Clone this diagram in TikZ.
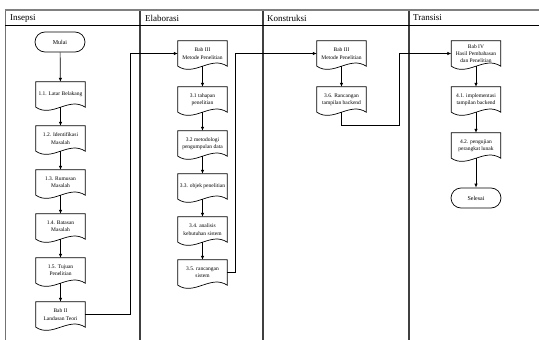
\documentclass[tikz,border=0pt]{standalone}
\usepackage{fontspec}
\setmainfont{Liberation Serif}
\usetikzlibrary{arrows.meta,calc}
\begin{document}
\begin{tikzpicture}[x=1pt,y=-1pt,
  doc/.style={draw=none, minimum width=49pt, minimum height=25pt, inner sep=1pt, align=center, font=\fontsize{5.5}{7.3}\selectfont},
  term/.style={draw, rounded corners=10pt, minimum width=50pt, minimum height=20pt, inner sep=1pt, font=\fontsize{6}{7}\selectfont, line width=0.7pt},
  arr/.style={line width=0.7pt, -{Latex[length=4pt,width=3.5pt]}},
  conn/.style={line width=0.7pt},
  lanehead/.style={anchor=west, inner sep=0pt, font=\fontsize{9}{11}\selectfont},
  outline/.style={line width=0.7pt},
  topline/.style={draw=black!50, line width=1.8pt},
  headline/.style={draw=black, line width=0.8pt},
  border/.style={draw=black!55, line width=1pt},
  divider/.style={draw=black!75, line width=2pt},
]
\useasboundingbox (0,0) rectangle (539,340);

% lanes
\draw[border] (5,10) -- (5,340);
\draw[divider] (140,10) -- (140,340);
\draw[divider] (263,10) -- (263,340);
\draw[divider] (409,10) -- (409,340);
\draw[topline] (4.5,10) -- (539,10);
\draw[headline] (5,25.5) -- (539,25.5);

\node[lanehead] (h1) at (10,18) {Insepsi};
\node[lanehead] (h2) at (145,18) {Elaborasi};
\node[lanehead] (h3) at (267,18) {Konstruksi};
\node[lanehead] (h4) at (413,18) {Transisi};

% Insepsi
\node[term] (start) at (60,42) {Mulai};
\node[doc] (a1) at (60.5,94.5) {1.1. Latar Belakang};
\node[doc] (a2) at (60.5,138.5) {1.2. Identifikasi\\Masalah};
\node[doc] (a3) at (60.5,182.5) {1.3. Rumusan\\Masalah};
\node[doc] (a4) at (60.5,226.5) {1.4. Batasan\\Masalah};
\node[doc] (a5) at (60.5,270.5) {1.5. Tujuan\\Penelitian};
\node[doc] (a6) at (60.5,314.5) {Bab II\\Landasan Teori};

% Elaborasi
\node[doc] (b1) at (202.5,53.5) {Bab III\\Metode Penelitian};
\node[doc] (b2) at (202.5,99.5) {3.1 tahapan\\penelitian};
\node[doc] (b3) at (202.5,143.5) {3.2 metodologi\\pengumpulan data};
\node[doc] (b4) at (202.5,186.5) {3.3. objek penelitian};
\node[doc] (b5) at (202.5,229.5) {3.4. analisis\\kebutuhan sistem};
\node[doc] (b6) at (202.5,272.5) {3.5. rancangan\\sistem};

% Konstruksi
\node[doc] (c1) at (341.5,53.5) {Bab III\\Metode Penelitian};
\node[doc] (c2) at (341.5,99.5) {3.6. Rancangan\\tampilan backend};

% Transisi
\node[doc] (d1) at (476,53.5) {Bab IV\\Hasil Pembahasan\\dan Penelitian};
\node[doc] (d2) at (476,99.5) {4.1. implementasi\\tampilan backend};
\node[doc] (d3) at (476,145.5) {4.2. pengujian\\perangkat lunak};
\node[term] (stop) at (476,198) {Selesai};

% document outlines
\foreach \n in {a1,a2,a3,a4,a5,a6,b1,b2,b3,b4,b5,b6,c1,c2,d1,d2,d3}{
  \draw[outline] (\n.north west) -- (\n.north east) -- (\n.south east)
    .. controls +(-16.3pt,11pt) and +(16.3pt,-11pt) .. (\n.south west) -- cycle;
}

% connectors
\draw[arr] (start) -- (a1);
\draw[arr] (a1.south) -- (a2);
\draw[arr] (a2.south) -- (a3);
\draw[arr] (a3.south) -- (a4);
\draw[arr] (a4.south) -- (a5);
\draw[arr] (a5.south) -- (a6);

\coordinate (j1) at (130,53.5);
\draw[arr] (a6.east) -| (j1) -- (b1.west);

\draw[arr] (b1.south) -- (b2);
\draw[arr] (b2.south) -- (b3);
\draw[arr] (b3.south) -- (b4);
\draw[arr] (b4.south) -- (b5);
\draw[arr] (b5.south) -- (b6);

\coordinate (j2) at (235,53.5);
\draw[arr] (b6.east) -| (j2) -- (c1.west);

\draw[arr] (c1.south) -- (c2);

\coordinate (j3) at (341.5,125);
\coordinate (j4) at (399,125);
\draw[arr] (c2.south) -- (j3) -- (j4) |- (d1.west);

\draw[arr] (d1.south) -- (d2);
\draw[arr] (d2.south) -- (d3);
\draw[arr] (d3.south) -- (stop);
\end{tikzpicture}
\end{document}
